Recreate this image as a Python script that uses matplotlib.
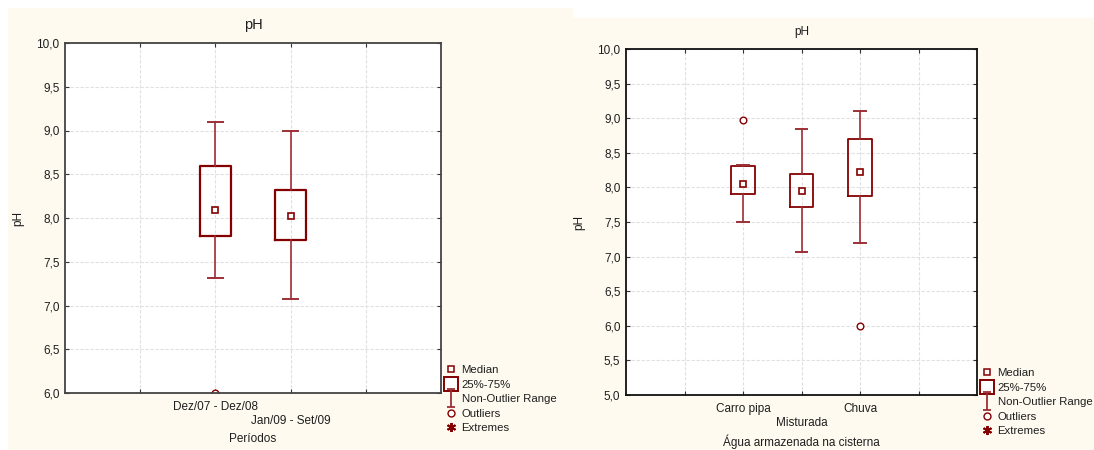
import matplotlib
matplotlib.use("Agg")
import matplotlib.pyplot as plt
from matplotlib.patches import Rectangle
from matplotlib.lines import Line2D
from matplotlib.path import Path
from matplotlib.ticker import FuncFormatter

plt.rcParams['font.family'] = ['Liberation Sans', 'DejaVu Sans']

# ---------------- data ----------------
# Left chart: pH by period
left_categories = ["Dez/07 - Dez/08", "Jan/09 - Set/09"]
left_whisker_low = [7.32, 7.07]
left_q1 = [7.80, 7.75]
left_median = [8.09, 8.02]
left_q3 = [8.60, 8.32]
left_whisker_high = [9.10, 9.00]
left_outliers = [[6.0], []]

# Right chart: pH by stored water type
right_categories = ["Carro pipa", "Misturada", "Chuva"]
right_whisker_low = [7.50, 7.07, 7.20]
right_q1 = [7.90, 7.72, 7.88]
right_median = [8.05, 7.95, 8.22]
right_q3 = [8.31, 8.20, 8.70]
right_whisker_high = [8.33, 8.84, 9.10]
right_outliers = [[8.98], [], [6.0]]

legend_labels = ["Median", "25%-75%", "Non-Outlier Range", "Outliers", "Extremes"]

# ---------------- style ----------------
BOX = '#840000'
WHISK = '#9c3036'
CREAM = '#fefaf0'
GRID = '#e0e0e0'
TXT = '#1e1e1e'
FS = 8.2

fig = plt.figure(figsize=(10.94, 4.5), dpi=100)
W, H = 1094, 450
# panel backgrounds
fig.patches.append(Rectangle((8 / W, 0), (572 - 8) / W, (450 - 8) / H,
                             transform=fig.transFigure, color=CREAM, zorder=-10))
fig.patches.append(Rectangle((572 / W, 0), (1094 - 572) / W, (450 - 18) / H,
                             transform=fig.transFigure, color=CREAM, zorder=-10))

comma = FuncFormatter(lambda v, p: f"{v:.1f}".replace('.', ','))

Ipath = Path([(-0.45, 1), (0.45, 1), (0, 1), (0, -1), (-0.45, -1), (0.45, -1)],
             [Path.MOVETO, Path.LINETO, Path.MOVETO, Path.LINETO, Path.MOVETO, Path.LINETO])


def draw_panel(rect, cats, wlo, q1, med, q3, whi, outl, xmax, ymin, title, tsize,
               xlabel, spine_color, box_lw, boxwidth, legend_anchor):
    ax = fig.add_axes(rect)
    ax.set_facecolor('white')
    positions = list(range(2, 2 + len(cats)))
    stats = []
    for i in range(len(cats)):
        stats.append(dict(med=med[i], q1=q1[i], q3=q3[i], whislo=wlo[i],
                          whishi=whi[i], fliers=outl[i], label=cats[i]))
    ax.bxp(stats, positions=positions, widths=boxwidth, capwidths=0.2,
           showfliers=True, manage_ticks=False,
           boxprops=dict(color=BOX, linewidth=box_lw),
           whiskerprops=dict(color=WHISK, linewidth=1.2),
           capprops=dict(color=WHISK, linewidth=1.4),
           medianprops=dict(linewidth=0),
           flierprops=dict(marker='o', markersize=4.8, markerfacecolor='white',
                           markeredgecolor=BOX, markeredgewidth=1.0))
    ax.plot(positions, med, ls='none', marker='s', markersize=5,
            markerfacecolor='white', markeredgecolor=BOX, markeredgewidth=1.2, zorder=5)

    ax.set_xlim(0, xmax)
    ax.set_ylim(ymin, 10.0)
    ax.set_yticks([ymin + 0.5 * k for k in range(int((10 - ymin) / 0.5) + 1)])
    ax.yaxis.set_major_formatter(comma)
    gx = list(range(1, xmax))
    ax.set_xticks(gx)
    labels = []
    for g in gx:
        if g in positions:
            idx = positions.index(g)
            labels.append(cats[idx] if idx % 2 == 0 else "\n" + cats[idx])
        else:
            labels.append("")
    ax.set_xticklabels(labels)
    ax.grid(True, color=GRID, linestyle=(0, (3, 1.5)), linewidth=0.8)
    ax.set_axisbelow(True)
    ax.tick_params(direction='in', length=3, width=0.8, top=True, right=True,
                   labelsize=FS + 0.3, colors='#333333', labelcolor=TXT)
    ax.tick_params(axis='x', pad=6)
    ax.tick_params(axis='y', pad=4)
    for s in ax.spines.values():
        s.set_color(spine_color)
        s.set_linewidth(1.3)
    ax.set_title(title, fontsize=tsize, pad=10, color=TXT)
    ax.set_xlabel(xlabel, fontsize=FS + 0.3, labelpad=4, color=TXT)
    ax.set_ylabel("pH", fontsize=FS + 0.3, labelpad=9, color=TXT)

    handles = [
        Line2D([], [], ls='none', marker='s', markersize=5, markerfacecolor='white',
               markeredgecolor=BOX, markeredgewidth=1.1),
        Line2D([], [], ls='none', marker='s', markersize=10, markerfacecolor='white',
               markeredgecolor=BOX, markeredgewidth=1.4),
        Line2D([], [], ls='none', marker=Ipath, markersize=13, markerfacecolor='none',
               markeredgecolor=WHISK, markeredgewidth=1.3),
        Line2D([], [], ls='none', marker='o', markersize=5, markerfacecolor='white',
               markeredgecolor=BOX, markeredgewidth=1.0),
        Line2D([], [], ls='none', marker=(6, 2, 0), markersize=6.5, markerfacecolor=BOX,
               markeredgecolor=BOX, markeredgewidth=1.4),
    ]
    fig.legend(handles, legend_labels, loc='upper left', bbox_to_anchor=legend_anchor,
               bbox_transform=fig.transFigure, frameon=False, fontsize=FS,
               handlelength=1.0, handletextpad=0.45, labelspacing=0.4,
               borderpad=0, borderaxespad=0, labelcolor=TXT)
    return ax


draw_panel([65 / W, 1 - 393 / H, (441 - 65) / W, (393 - 43) / H],
           left_categories, left_whisker_low, left_q1, left_median, left_q3,
           left_whisker_high, left_outliers, 5, 6.0, "pH", 10.5, "Períodos",
           '#444444', 1.6, 0.42, (445 / W, 1 - 365 / H))

draw_panel([626 / W, 1 - 395 / H, (977 - 626) / W, (395 - 49) / H],
           right_categories, right_whisker_low, right_q1, right_median, right_q3,
           right_whisker_high, right_outliers, 6, 5.0, "pH", 8.5,
           "Água armazenada na cisterna", '#111111', 1.3, 0.4, (981 / W, 1 - 368 / H))

fig.savefig("out.png", dpi=100, facecolor='white')
